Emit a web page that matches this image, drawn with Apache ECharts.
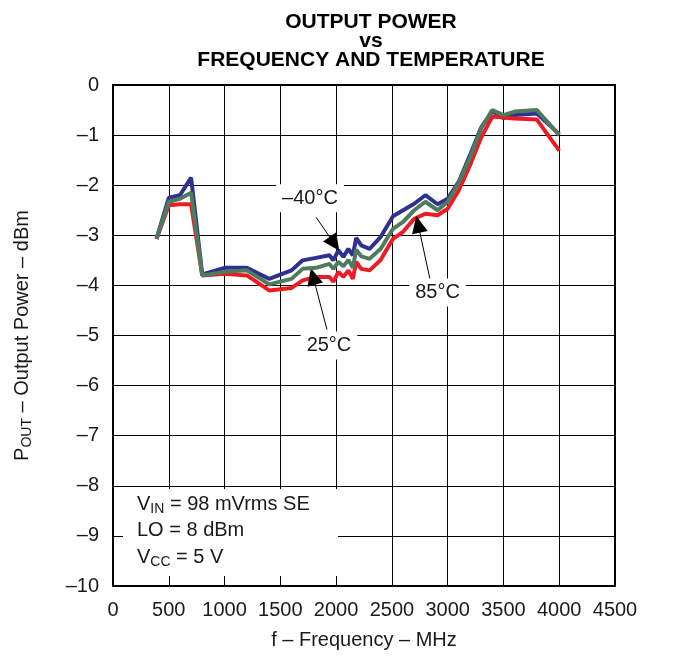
<!DOCTYPE html>
<html>
<head>
<meta charset="utf-8">
<script src="https://cdn.jsdelivr.net/npm/echarts@6/dist/echarts.min.js"></script>
<style>
  html, body { margin: 0; background: #fff; }
  #chart { width: 674px; height: 656px; }
</style>
</head>
<body>
<div id="chart"></div>
<script>
// frequency points (MHz)
const freq = [390, 500, 600, 700, 800, 1000, 1200, 1400, 1600, 1700, 1820, 1940, 1975, 2020, 2065, 2110,
  2150, 2180, 2225, 2300, 2400, 2510, 2600, 2700, 2800, 2910, 3000, 3100, 3200, 3300, 3400, 3500, 3600, 3800, 4000];

// output power (dBm)
const powerM40 = [-3.07, -2.25, -2.2, -1.85, -3.78, -3.65, -3.65, -3.87, -3.7, -3.5, -3.45, -3.4, -3.5, -3.3, -3.43, -3.27,
  -3.4, -3.05, -3.2, -3.27, -3.03, -2.62, -2.5, -2.37, -2.2, -2.38, -2.27, -1.93, -1.4, -0.85, -0.52, -0.66, -0.6, -0.57, -0.98];
const power25 = [-3.07, -2.33, -2.27, -2.15, -3.8, -3.73, -3.7, -3.98, -3.87, -3.67, -3.65, -3.57, -3.67, -3.53, -3.62, -3.49,
  -3.65, -3.29, -3.42, -3.47, -3.27, -2.87, -2.73, -2.5, -2.33, -2.5, -2.33, -1.95, -1.45, -0.87, -0.5, -0.6, -0.53, -0.5, -1.0];
const power85 = [-3.07, -2.4, -2.38, -2.38, -3.8, -3.77, -3.8, -4.1, -4.05, -3.9, -3.83, -3.83, -3.93, -3.73, -3.83, -3.7,
  -3.87, -3.53, -3.67, -3.7, -3.49, -3.07, -2.93, -2.67, -2.57, -2.6, -2.47, -2.1, -1.6, -1.05, -0.63, -0.65, -0.67, -0.69, -1.31];

const xTicks = [0, 500, 1000, 1500, 2000, 2500, 3000, 3500, 4000, 4500];
const yTicks = [0, -1, -2, -3, -4, -5, -6, -7, -8, -9, -10];

const font = "'Liberation Sans', Arial, sans-serif";
const ink = '#1a1a1a';

function pairs(ys) {
  return freq.map((f, i) => [f, ys[i]]);
}

const chart = echarts.init(document.getElementById('chart'));

const arrowLine = { color: '#000', width: 1, type: 'solid' };

const option = {
  animation: false,
  textStyle: { fontFamily: font },
  title: {
    text: 'OUTPUT POWER\nvs\nFREQUENCY AND TEMPERATURE',
    left: 366,
    top: 8,
    textAlign: 'center',
    textStyle: { fontFamily: font, fontSize: 21, fontWeight: 'bold', color: '#000', lineHeight: 19 }
  },
  grid: {
    left: 113, right: 59, top: 85, bottom: 70,
    show: true, borderColor: '#000', borderWidth: 2
  },
  xAxis: {
    type: 'value',
    min: xTicks[0], max: xTicks[xTicks.length - 1], interval: 500,
    name: 'f \u2013 Frequency \u2013 MHz',
    nameLocation: 'middle',
    nameGap: 44,
    nameTextStyle: { fontFamily: font, fontSize: 20, color: ink },
    axisLine: { show: true, lineStyle: { color: '#000', width: 2 } },
    axisTick: { show: false },
    axisLabel: { fontFamily: font, fontSize: 20, color: ink, margin: 14, formatter: v => String(v) },
    splitLine: { show: true, lineStyle: { color: '#000', width: 1 } }
  },
  yAxis: {
    type: 'value',
    min: yTicks[yTicks.length - 1], max: yTicks[0], interval: 1,
    name: '{n|P}{s|OUT}{n| \u2013 Output Power \u2013 dBm}',
    nameLocation: 'middle',
    nameRotate: 90,
    nameGap: 79,
    nameTextStyle: {
      color: ink,
      rich: {
        n: { fontFamily: font, fontSize: 20, color: ink },
        s: { fontFamily: font, fontSize: 14, color: ink, padding: [10, 0, 0, 0] }
      }
    },
    axisLine: { show: true, lineStyle: { color: '#000', width: 2 } },
    axisTick: { show: false },
    axisLabel: {
      fontFamily: font, fontSize: 20, color: ink, margin: 14,
      formatter: v => (v === 0 ? '0' : '\u2013' + Math.abs(v))
    },
    splitLine: { show: true, lineStyle: { color: '#000', width: 1 } }
  },
  series: [
    {
      name: '-40°C',
      type: 'line',
      data: pairs(powerM40),
      symbol: 'none',
      lineStyle: { color: '#2e3192', width: 4 },
      z: 3
    },
    {
      name: '85°C',
      type: 'line',
      data: pairs(power85),
      symbol: 'none',
      lineStyle: { color: '#ed1c24', width: 4 },
      z: 4
    },
    {
      name: '25°C',
      type: 'line',
      data: pairs(power25),
      symbol: 'none',
      lineStyle: { color: '#4e7b5d', width: 4 },
      z: 5,
      markLine: {
        silent: true,
        symbol: ['none', 'triangle'],
        symbolSize: [16, 17],
        label: { show: false },
        lineStyle: arrowLine,
        data: [
          [{ coord: [1820, -2.64] }, { coord: [1985, -3.17] }],
          [{ coord: [1918, -4.88] }, { coord: [1793, -3.82] }],
          [{ coord: [2841, -3.87] }, { coord: [2735, -2.78] }]
        ]
      },
      markPoint: {
        silent: true,
        symbol: 'circle',
        symbolSize: 0,
        label: {
          show: true, position: 'inside', fontFamily: font, fontSize: 20, color: ink,
          backgroundColor: '#fff', padding: [4, 6]
        },
        data: [
          { coord: [1766, -2.26], label: { formatter: '\u201340\u00b0C' } },
          { coord: [1936, -5.2], label: { formatter: '25\u00b0C' } },
          { coord: [2909, -4.14], label: { formatter: '85\u00b0C' } }
        ]
      }
    }
  ],
  graphic: [
    {
      type: 'rect',
      left: 123, top: 489,
      shape: { width: 215, height: 87 },
      style: { fill: '#fff' },
      z: 1
    },
    {
      type: 'text',
      left: 137, top: 492,
      z: 2,
      style: {
        text: '{n|V}{s|IN}{n| = 98 mVrms SE}\n{n|LO = 8 dBm}\n{n|V}{s|CC}{n| = 5 V}',
        fill: ink,
        rich: {
          n: { fontFamily: font, fontSize: 20, lineHeight: 26.5, fill: ink },
          s: { fontFamily: font, fontSize: 14, lineHeight: 26.5, fill: ink, padding: [10, 0, 0, 0] }
        }
      }
    }
  ]
};

chart.setOption(option);
</script>
</body>
</html>
